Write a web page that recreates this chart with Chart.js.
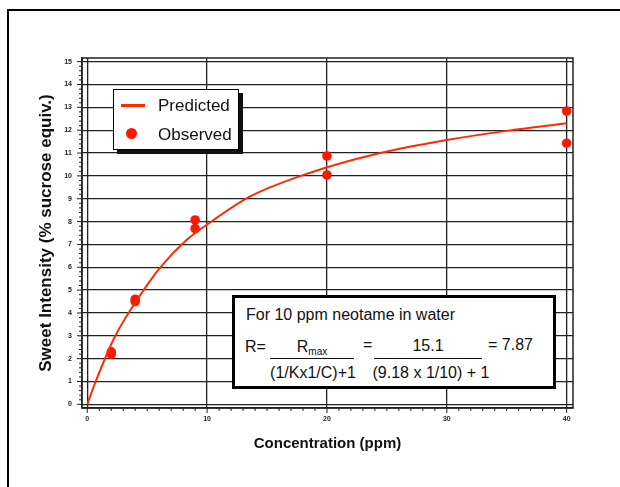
<!DOCTYPE html>
<html>
<head>
<meta charset="utf-8">
<script src="https://cdn.jsdelivr.net/npm/chart.js@4.4.1/dist/chart.umd.min.js"></script>
<style>
  body { margin: 0; width: 620px; height: 487px; overflow: hidden; background: #fff; position: relative;
         font-family: "Liberation Sans", Arial, sans-serif; color: #111; }
  #frame { position: absolute; left: 7px; top: 9px; width: 700px; height: 600px; border: 2px solid #000; }
  #wrap { position: absolute; left: 0; top: 0; width: 620px; height: 487px; }
  .abs { position: absolute; white-space: nowrap; }
  #legend { position: absolute; left: 113px; top: 89px; width: 124px; height: 59px; border: 1px solid #000;
            background: #fff; box-shadow: 4px 4px 0 #111; font-size: 17px; line-height: 20px; }
  #note { position: absolute; left: 232px; top: 295px; width: 318px; height: 88px; border: 3px solid #000;
          background: #fff; font-size: 16px; line-height: 20px; }
  .bar { position: absolute; height: 1.5px; background: #111; }
  .c { text-align: center; }
  sub { font-size: 10px; vertical-align: -3px; line-height: 0; }
</style>
</head>
<body>
<div id="frame"></div>
<div id="wrap"><canvas id="myChart" width="620" height="487"></canvas></div>

<div id="legend">
  <div class="abs" style="left:7px;top:14px;width:24px;height:2.5px;background:#ff2a00"></div>
  <div class="abs" style="left:44px;top:6px">Predicted</div>
  <div class="abs" style="left:12px;top:38px;width:11px;height:11px;border-radius:50%;background:#ff1800"></div>
  <div class="abs" style="left:44px;top:35px">Observed</div>
</div>

<div id="note">
  <div class="abs" style="left:11px;top:7px">For 10 ppm neotame in water</div>
  <div class="abs" style="left:10px;top:39px">R=</div>
  <div class="abs c" style="left:35px;top:39px;width:84px">R<sub>max</sub></div>
  <div class="bar" style="left:35px;top:59.5px;width:84px"></div>
  <div class="abs c" style="left:34px;top:65px;width:88px">(1/Kx1/C)+1</div>
  <div class="abs" style="left:128px;top:37px">=</div>
  <div class="abs c" style="left:139px;top:38px;width:108px">15.1</div>
  <div class="bar" style="left:139px;top:59.5px;width:108px"></div>
  <div class="abs c" style="left:137px;top:65px;width:118px">(9.18 x 1/10) + 1</div>
  <div class="abs" style="left:253px;top:37px">= 7.87</div>
</div>

<script>
// observed sweetness (ppm, % sucrose equiv.)
const obsConc = [2, 2, 4, 4, 9, 9, 20, 20, 40, 40];
const obsSweet = [2.3, 2.2, 4.6, 4.5, 8.07, 7.69, 10.87, 10.04, 12.84, 11.43];
// predicted curve
const predConc = [0, 0.7, 2.3, 4.7, 6.1, 8.3, 10, 13.6, 18.6, 24.1, 30, 35, 40];
const predSweet = [0, 1.0, 2.96, 5.0, 6.0, 7.2, 7.87, 9.1, 10.14, 10.96, 11.57, 11.97, 12.3];
const xTicks = [0, 10, 20, 30, 40];
const yTicks = [0, 1, 2, 3, 4, 5, 6, 7, 8, 9, 10, 11, 12, 13, 14, 15];

const gridColor = "#222";

// minor ticks + box round the plot
const plotExtras = {
  id: "plotExtras",
  beforeDatasetsDraw(chart) {
    const { ctx, chartArea: a } = chart;
    ctx.save();
    ctx.strokeStyle = gridColor;
    ctx.lineWidth = 1.5;
    ctx.strokeRect(a.left, a.top, a.right - a.left, a.bottom - a.top);
    ctx.restore();
  },
  afterDraw(chart) {
    const { ctx, chartArea: a } = chart;
    const xs = chart.scales.x, ys = chart.scales.y;
    ctx.save();
    ctx.strokeStyle = gridColor;
    ctx.lineWidth = 1;
    ctx.beginPath();
    for (let i = 0; i <= 40; i++) {
      const px = xs.getPixelForValue(i);
      const len = i % 10 === 0 ? 5 : 3;
      ctx.moveTo(px, a.bottom);
      ctx.lineTo(px, a.bottom + len);
    }
    for (let j = 0; j <= 75; j++) {
      const py = ys.getPixelForValue(j / 5);
      const len = j % 5 === 0 ? 5 : 3;
      ctx.moveTo(a.left, py);
      ctx.lineTo(a.left - len, py);
    }
    ctx.stroke();
    ctx.restore();
  }
};

new Chart("myChart", {
  type: "scatter",
  data: {
    datasets: [{
      label: "Predicted",
      data: predConc.map((c, i) => ({ x: c, y: predSweet[i] })),
      showLine: true,
      borderColor: "#ff2a00",
      borderWidth: 2,
      pointRadius: 0,
      cubicInterpolationMode: "monotone"
    }, {
      label: "Observed",
      data: obsConc.map((c, i) => ({ x: c, y: obsSweet[i] })),
      backgroundColor: "#ff1800",
      borderWidth: 0,
      pointRadius: 4.8
    }]
  },
  options: {
    responsive: false,
    animation: false,
    layout: { padding: { top: 58, right: 47, bottom: 0, left: 0 } },
    plugins: { legend: { display: false }, tooltip: { enabled: false } },
    scales: {
      x: {
        min: -0.44, max: 40.53,
        afterBuildTicks: s => { s.ticks = xTicks.map(v => ({ value: v })); },
        afterFit: s => { s.height = 79; },
        grid: { color: gridColor, lineWidth: 1.3, drawTicks: false },
        border: { display: true, color: gridColor, width: 1.5 },
        ticks: { autoSkip: false, maxRotation: 0, padding: 7, color: "#222",
                 font: { family: "Liberation Sans", size: 7, weight: "bold" } },
        title: { display: true, text: "Concentration (ppm)", color: "#111",
                 padding: { top: 0, bottom: 34 },
                 font: { family: "Liberation Sans", size: 15, weight: "bold" } }
      },
      y: {
        min: -0.16, max: 15.16,
        afterBuildTicks: s => { s.ticks = yTicks.map(v => ({ value: v })); },
        afterFit: s => { s.width = 82; },
        grid: { color: gridColor, lineWidth: 1.3, drawTicks: false },
        border: { display: true, color: gridColor, width: 1.5 },
        ticks: { autoSkip: false, padding: 10, color: "#222",
                 font: { family: "Liberation Sans", size: 7, weight: "bold" } },
        title: { display: true, text: "Sweet Intensity (% sucrose equiv.)", color: "#111",
                 padding: { top: 36, bottom: 0 },
                 font: { family: "Liberation Sans", size: 17, weight: "bold" } }
      }
    }
  },
  plugins: [plotExtras]
});
</script>
</body>
</html>
